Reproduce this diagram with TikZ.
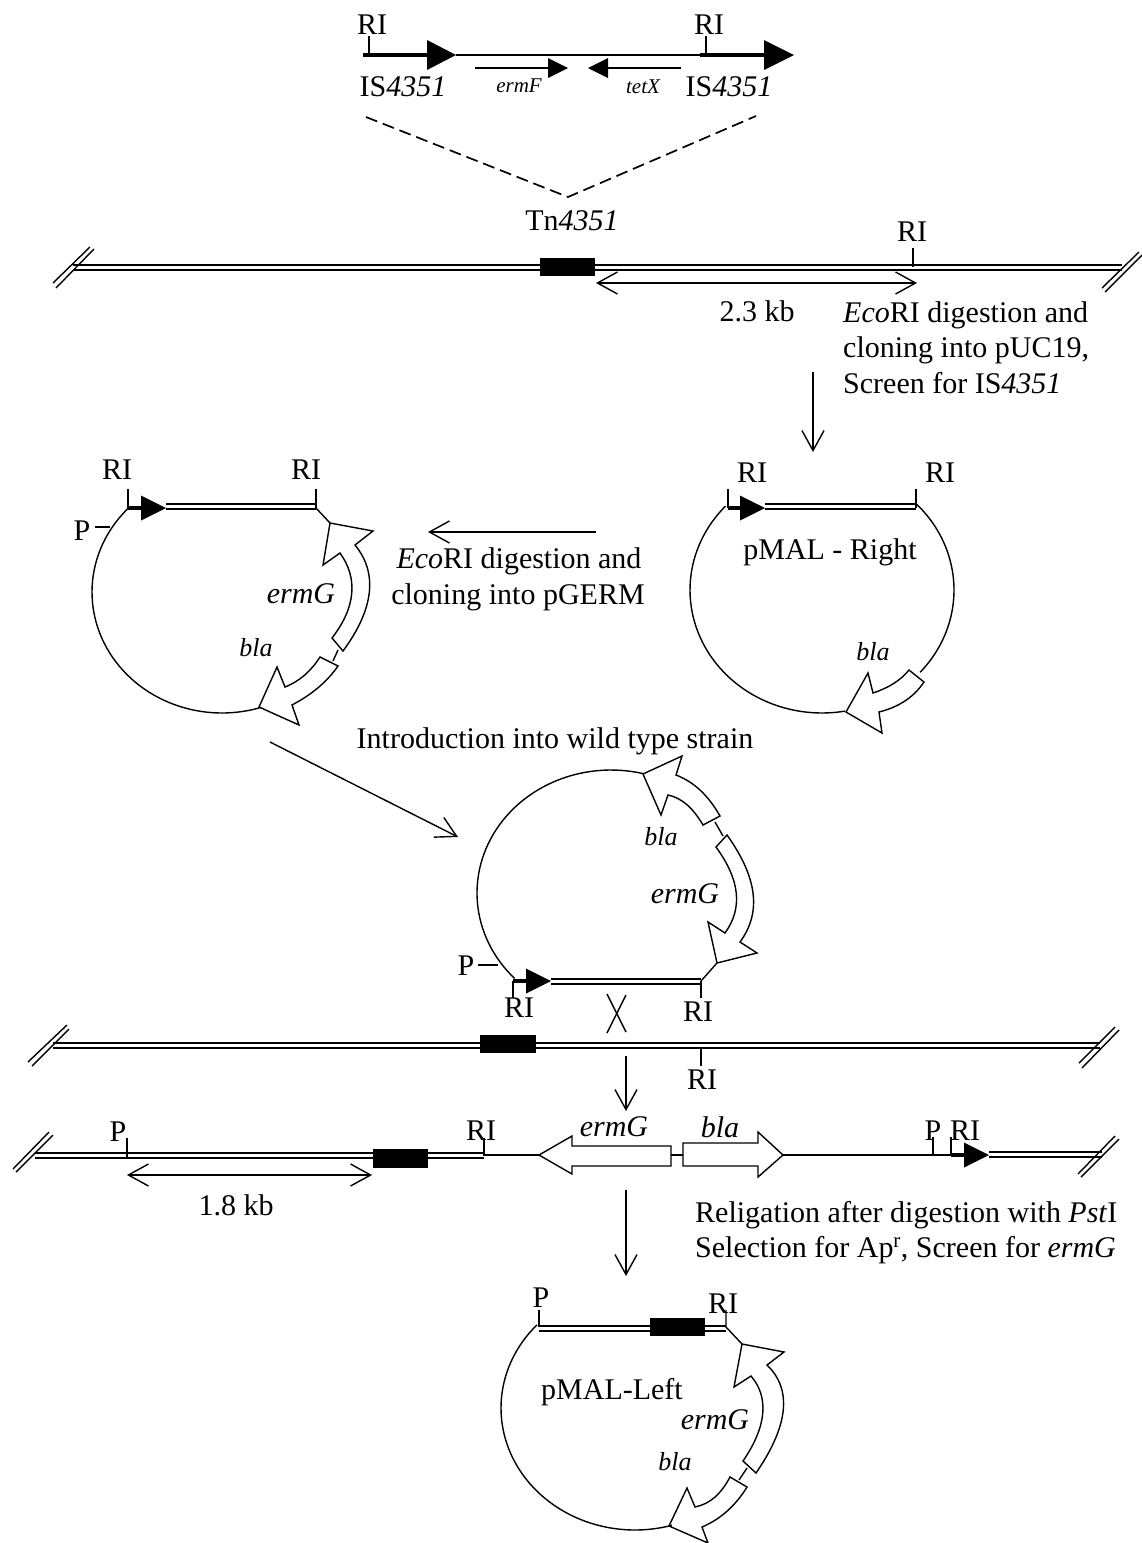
\documentclass[tikz,border=0pt]{standalone}
\usepackage{fontspec}
\setmainfont{Liberation Serif}
\usetikzlibrary{arrows.meta}
\tikzset{
  lab/.style={inner sep=0pt,font=\fontsize{30}{34}\selectfont},
  itlab/.style={inner sep=0pt,font=\fontsize{30}{34}\selectfont\itshape},
  smlab/.style={inner sep=0pt,font=\fontsize{26}{30}\selectfont\itshape},
  tnlab/.style={inner sep=0pt,font=\fontsize{21}{24}\selectfont\itshape},
  ln/.style={line width=1.4pt,line join=miter},
  dbl/.style={line width=1.8pt},
  shaft/.style={line width=4.5pt},
  barb/.style={ln,-{Straight Barb[length=20pt,width=22pt,line width=1.4pt]}},
  dbarb/.style={ln,{Straight Barb[length=20pt,width=22pt,line width=1.4pt]}-{Straight Barb[length=20pt,width=22pt,line width=1.4pt]}}
}
\newcommand{\doubleline}[3]{% x1 x2 y
  \draw[dbl] (#1,#3) -- (#2,#3);
  \draw[dbl] (#1,#3+5) -- (#2,#3+5);}
\newcommand{\solidarrow}[3]{% x(start) x(tip) y
  \draw[shaft] (#1,#3) -- (#2-25,#3);
  \fill (#2-25,#3-12.5) -- (#2,#3) -- (#2-25,#3+12.5) -- cycle;}
\newcommand{\ellarc}[6]{% cx cy rx ry a b
  \draw[ln] plot[domain=#5:#6,samples=60,variable=\t] ({#1+#3*cos(\t)},{#2+#4*sin(\t)});}
\begin{document}
\begin{tikzpicture}[x=1pt,y=-1pt]
\useasboundingbox (0,0) rectangle (1142,1543);

% ---- top: transposon
\draw[shaft] (363,55) -- (427,55);
\fill (427,40) -- (456,55) -- (427,70) -- cycle;
\draw[line width=1.1pt] (456,55) -- (700,55);
\draw[shaft] (700,55) -- (764,55);
\fill (764,40) -- (794,55) -- (764,70) -- cycle;
\draw[ln] (369,36) -- (369,55);
\draw[ln] (706,36) -- (706,55);
\node[lab] (riA) at (372,25) {RI};
\node[lab] (riB) at (709,25) {RI};
\node[lab] (isA) at (403,87) {IS\textit{4351}};
\node[lab] (isB) at (729,87) {IS\textit{4351}};
\draw[line width=1.1pt] (475,68) -- (548,68);
\fill (548,58) -- (568,68) -- (548,78) -- cycle;
\draw[line width=1.1pt] (681,68) -- (608,68);
\fill (608,58) -- (588,68) -- (608,78) -- cycle;
\node[tnlab] (ermF) at (519,86) {ermF};
\node[tnlab] (tetX) at (643,87) {tetX};
\coordinate (dashL) at (366,117);
\coordinate (dashM) at (568,197);
\coordinate (dashR) at (756,116);
\draw[line width=1.7pt,dash pattern=on 12pt off 6pt] (dashL) -- (dashM) -- (dashR);
\node[lab] (tn) at (572,221) {Tn\textit{4351}};

% ---- chromosome 1
\doubleline{73}{1122}{265}
\fill (540,258) rectangle (595,276);
\draw[ln] (53,283) -- (90,247);
\draw[ln] (56,288) -- (94,249);
\draw[ln] (1102,288) -- (1139,252);
\draw[ln] (1105,292) -- (1142,255);
\draw[ln] (913,248) -- (913,267);
\node[lab] (riC) at (912,232) {RI};
\coordinate (kbL) at (596,283);
\coordinate (kbR) at (917,283);
\draw[dbarb] (kbL) -- (kbR);
\node[lab] (kb23) at (757,311) {2.3 kb};
\node[lab,anchor=base west] (t1a) at (843,322) {\textit{Eco}RI digestion and};
\node[lab,anchor=base west] (t1b) at (843,357) {cloning into pUC19,};
\node[lab,anchor=base west] (t1c) at (843,393) {Screen for IS\textit{4351}};
\coordinate (dnAa) at (813,372);
\coordinate (dnAb) at (813,452);
\draw[barb] (dnAa) -- (dnAb);

% ---- pMAL-Right
\ellarc{822}{590}{132}{123}{-44}{42}
\ellarc{822}{590}{132}{123}{80}{223}
\draw[ln] (728,489) -- (728,508);
\draw[ln] (916,489) -- (916,508);
\solidarrow{728}{765}{508}
\doubleline{765}{916}{504}
\draw[ln] (924,682) -- (909,670) .. controls (900,681) and (888,688) .. (873,693) -- (868,673) -- (846,712) -- (882,733) -- (879,712) .. controls (899,707) and (914,697) .. cycle;
\node[lab] (riD) at (752,473) {RI};
\node[lab] (riE) at (940,473) {RI};
\node[lab] (pmalR) at (830,552) {pMAL - Right};
\node[smlab] (blaR) at (873,652) {bla};

% ---- left plasmid
\ellarc{222}{592}{130}{121}{73}{224}
\draw[ln] (128,489) -- (128,508);
\draw[ln] (316,489) -- (316,508);
\solidarrow{128}{166}{508}
\doubleline{166}{316}{504}
\draw[ln] (316,508) -- (330,523);
\draw[ln] (95,527) -- (110,527);
\node[lab] (pA) at (82,531) {P};
\node[lab] (riF) at (117,470) {RI};
\node[lab] (riG) at (306,470) {RI};
\draw[ln] (330,523) -- (373,531) -- (355,545) .. controls (378,573) and (374,609) .. (343,651) -- (332,638) .. controls (356,607) and (358,578) .. (340,553) -- (323,565) -- cycle;
\draw[ln] (338,650) -- (333,661);
\draw[ln] (338,666) -- (320,657) .. controls (311,671) and (300,681) .. (285,687) -- (277,667) -- (259,707) -- (299,725) -- (292,705) .. controls (311,695) and (327,682) .. cycle;
\node[itlab] (ermA) at (301,594) {ermG};
\node[smlab] (blaA) at (256,648) {bla};
\node[lab] (t2a) at (519,561) {\textit{Eco}RI digestion and};
\node[lab] (t2b) at (518,597) {cloning into pGERM};
\coordinate (ltA) at (596,532);
\coordinate (ltB) at (428,532);
\draw[barb] (ltA) -- (ltB);
\node[lab] (intro) at (555,741) {Introduction into wild type strain};
\coordinate (diagA) at (270,742);
\coordinate (diagB) at (458,837);
\draw[barb] (diagA) -- (diagB);

% ---- middle plasmid
\ellarc{611}{893}{134}{123}{136}{284}
\draw[ln] (643,774) -- (682,756) -- (676,775) .. controls (694,782) and (708,795) .. (720,816) -- (703,825) .. controls (693,808) and (682,798) .. (668,795) -- (661,815) -- cycle;
\draw[ln] (715,822) -- (723,836);
\draw[ln] (727,835) -- (716,847) .. controls (740,880) and (743,908) .. (725,933) -- (708,922) -- (717,963) -- (757,953) -- (740,942) .. controls (762,912) and (757,877) .. cycle;
\draw[ln] (717,963) -- (701,981);
\doubleline{551}{701}{979}
\solidarrow{513}{551}{981}
\draw[ln] (513,981) -- (513,998);
\draw[ln] (701,981) -- (701,998);
\draw[ln] (478,965) -- (498,965);
\node[lab] (pB) at (466,966) {P};
\node[lab] (riH) at (519,1008) {RI};
\node[lab] (riI) at (698,1012) {RI};
\node[smlab] (blaB) at (661,837) {bla};
\node[itlab] (ermB) at (685,894) {ermG};
\draw[ln] (607,994) -- (626,1032);
\draw[ln] (626,995) -- (607,1033);

% ---- chromosome 2
\doubleline{53}{1100}{1043}
\fill (480,1035) rectangle (536,1053);
\draw[ln] (28,1062) -- (67,1025);
\draw[ln] (32,1066) -- (69,1029);
\draw[ln] (1079,1063) -- (1115,1027);
\draw[ln] (1082,1068) -- (1119,1030);
\draw[ln] (701,1048) -- (701,1066);
\node[lab] (riJ) at (702,1080) {RI};
\coordinate (dnBa) at (626,1056);
\coordinate (dnBb) at (626,1111);
\draw[barb] (dnBa) -- (dnBb);

% ---- integrated line
\doubleline{35}{484}{1153}
\fill (373,1149) rectangle (428,1168);
\draw[ln] (13,1169) -- (49,1132);
\draw[ln] (16,1172) -- (53,1135);
\draw[ln] (127,1138) -- (127,1158);
\node[lab] (pC) at (118,1132) {P};
\coordinate (kcL) at (127,1175);
\coordinate (kcR) at (372,1175);
\draw[dbarb] (kcL) -- (kcR);
\node[lab] (kb18) at (236,1205) {1.8 kb};
\draw[ln] (484,1138) -- (484,1155) -- (539,1155);
\node[lab] (riK) at (481,1131) {RI};
\draw[ln] (539,1155) -- (572,1136) -- (572,1146) -- (671,1146) -- (671,1166) -- (572,1166) -- (572,1174) -- cycle;
\draw[ln] (671,1155) -- (683,1155);
\draw[ln] (683,1143) -- (758,1143) -- (758,1132) -- (783,1155) -- (758,1177) -- (758,1166) -- (683,1166) -- cycle;
\draw[ln] (783,1155) -- (951,1155);
\draw[ln] (933,1137) -- (933,1155);
\draw[ln] (951,1137) -- (951,1155);
\solidarrow{951}{989}{1155}
\doubleline{989}{1102}{1152}
\draw[ln] (1078,1174) -- (1115,1136);
\draw[ln] (1081,1177) -- (1119,1139);
\node[itlab] (ermC) at (614,1127) {ermG};
\node[itlab] (blaC) at (720,1127) {bla};
\node[lab] (pD) at (933,1131) {P};
\node[lab] (riL) at (965,1131) {RI};
\coordinate (dnCa) at (626,1190);
\coordinate (dnCb) at (626,1276);
\draw[barb] (dnCa) -- (dnCb);
\node[lab,anchor=base west] (t3a) at (695,1222) {Religation after digestion with \textit{Pst}I};
\node[lab,anchor=base west] (t3b) at (695,1257) {Selection for Ap\textsuperscript{r}, Screen for \textit{ermG}};

% ---- pMAL-Left
\ellarc{635}{1408}{134}{122}{74}{223}
\doubleline{539}{726}{1326}
\fill (650,1318) rectangle (705,1336);
\draw[ln] (539,1310) -- (539,1327);
\draw[ln] (726,1310) -- (726,1327) -- (742,1344);
\draw[ln] (742,1344) -- (784,1352) -- (767,1365) .. controls (792,1389) and (789,1425) .. (756,1473) -- (743,1461) .. controls (767,1426) and (769,1397) .. (751,1376) -- (734,1387) -- cycle;
\draw[ln] (747,1468) -- (739,1480);
\draw[ln] (747,1487) -- (730,1477) .. controls (721,1494) and (710,1504) .. (695,1507) -- (687,1488) -- (669,1526) -- (708,1543) -- (702,1527) .. controls (721,1519) and (736,1505) .. cycle;
\node[lab] (pE) at (541,1298) {P};
\node[lab] (riM) at (723,1304) {RI};
\node[lab] (pmalL) at (612,1392) {pMAL-Left};
\node[itlab] (ermD) at (715,1420) {ermG};
\node[smlab] (blaD) at (675,1462) {bla};
\end{tikzpicture}
\end{document}
